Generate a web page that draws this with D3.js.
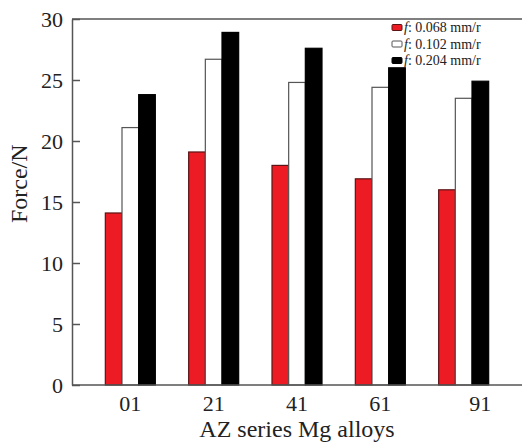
<!DOCTYPE html>
<html>
<head>
<meta charset="utf-8">
<script src="https://cdn.jsdelivr.net/npm/d3@7"></script>
<style>
  html, body { margin: 0; padding: 0; background: #fff; }
  svg { display: block; }
  text { font-family: "Liberation Serif", "DejaVu Serif", serif; fill: #222; }
</style>
</head>
<body>
<svg id="chart" width="522" height="443"></svg>
<script>
// ---- data ----
const categories = ["01", "21", "41", "61", "91"];
const seriesNames = ["0.068 mm/r", "0.102 mm/r", "0.204 mm/r"];
const feed068 = [14.1, 19.1, 18.0, 16.9, 16.0];
const feed102 = [21.1, 26.7, 24.8, 24.4, 23.5];
const feed204 = [23.8, 28.9, 27.6, 26.0, 24.9];
const yTicks = [0, 5, 10, 15, 20, 25, 30];
const xTitle = "AZ series Mg alloys";
const yTitle = "Force/N";

(function () {
const seriesValues = [feed068, feed102, feed204];
const seriesFill = ["#ed1c24", "#ffffff", "#000000"];
const seriesStroke = ["#5a1414", "#555555", "#000000"];

const svg = d3.select("#chart");
const pLeft = 72, pRight = 522, pTop = 19, pBottom = 385;

const y = d3.scaleLinear().domain([0, 30]).range([pBottom, pTop]);
const x0 = d3.scaleBand().domain(categories).range([pLeft, pRight])
  .paddingInner(0.4).paddingOuter(0.4);
const x1 = d3.scaleBand().domain(d3.range(seriesNames.length))
  .range([0, x0.bandwidth()]).padding(0);

// bars
const rows = [];
categories.forEach((c, i) => {
  seriesValues.forEach((vals, s) => rows.push({ c, s, v: vals[i] }));
});
svg.append("g").selectAll("rect").data(rows).join("rect")
  .attr("x", d => x0(d.c) + x1(d.s))
  .attr("y", d => y(d.v))
  .attr("width", x1.bandwidth())
  .attr("height", d => y(0) - y(d.v))
  .attr("fill", d => seriesFill[d.s])
  .attr("stroke", d => seriesStroke[d.s])
  .attr("stroke-width", 1.2);

// top frame line
svg.append("line")
  .attr("x1", pLeft).attr("x2", pRight)
  .attr("y1", y(30)).attr("y2", y(30))
  .attr("stroke", "#555").attr("stroke-width", 1.5);

// y axis
const yAxis = svg.append("g").attr("transform", `translate(${pLeft},0)`)
  .call(d3.axisLeft(y).tickValues(yTicks).tickFormat(d3.format("d"))
    .tickSizeInner(-8).tickSizeOuter(0).tickPadding(9));
yAxis.select(".domain").attr("stroke", "#555").attr("stroke-width", 1.5);
yAxis.selectAll(".tick line").attr("stroke", "#555").attr("stroke-width", 1.5);
yAxis.selectAll(".tick text")
  .style("font-family", '"Liberation Serif", serif')
  .style("font-size", "22px").attr("fill", "#222").attr("dy", "0.36em");

// x axis (no ticks)
const xAxisG = svg.append("g").attr("transform", `translate(0,${pBottom})`);
xAxisG.append("line").attr("x1", pLeft).attr("x2", pRight)
  .attr("stroke", "#555").attr("stroke-width", 1.5);
const lastIdx = categories.length - 1;
xAxisG.selectAll("text.xt").data(categories).join("text")
  .attr("class", "xt")
  .attr("x", (c, i) => i === lastIdx
    ? x0(c) + x1(seriesNames.length - 1) + x1.bandwidth() / 2
    : x0(c) + x0.bandwidth() / 2)
  .attr("y", 26)
  .attr("text-anchor", "middle")
  .style("font-size", "22px")
  .text(d => d);

// axis titles
svg.append("text")
  .attr("x", (pLeft + pRight) / 2).attr("y", 437)
  .attr("text-anchor", "middle").style("font-size", "24px")
  .text(xTitle);
svg.append("text")
  .attr("transform", `translate(27,${y(16.5)}) rotate(-90)`)
  .attr("text-anchor", "middle").style("font-size", "24px")
  .text(yTitle);

// legend
const lgX = 392, lgY = 27.5, lgStep = 16.5;
const lg = svg.append("g").attr("transform", `translate(${lgX},${lgY})`);
seriesNames.forEach((name, i) => {
  const g = lg.append("g").attr("transform", `translate(0,${i * lgStep})`);
  g.append("rect").attr("x", 0).attr("y", -3).attr("width", 10).attr("height", 6)
    .attr("rx", 1)
    .attr("fill", seriesFill[i]).attr("stroke", seriesStroke[i]).attr("stroke-width", 1);
  const t = g.append("text").attr("x", 12).attr("y", 4.5).style("font-size", "14px");
  t.append("tspan").style("font-style", "italic").text("f");
  t.append("tspan").text(": " + name);
});
})();
</script>
</body>
</html>
